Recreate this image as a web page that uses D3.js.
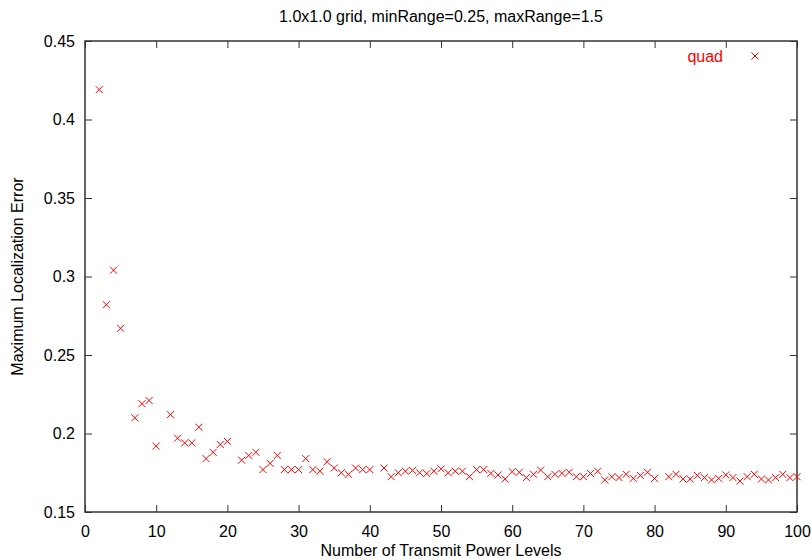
<!DOCTYPE html>
<html>
<head>
<meta charset="utf-8">
<script src="https://cdn.jsdelivr.net/npm/d3@7"></script>
<style>
  html, body { margin: 0; padding: 0; background: #fff; }
  svg { display: block; }
  text { font-family: "Liberation Sans", Arial, sans-serif; }
</style>
</head>
<body>
<script>
const levels = [2,3,4,5,7,8,9,10,12,13,14,15,16,17,18,19,20,22,23,24,25,26,27,28,29,30,
  31,32,33,34,35,36,37,38,39,40,42,43,44,45,46,47,48,49,50,51,52,53,54,55,56,57,58,59,60,
  61,62,63,64,65,66,67,68,69,70,71,72,73,74,75,76,77,78,79,80,82,83,84,85,86,87,88,89,90,
  91,92,93,94,95,96,97,98,99,100];
const maxError = [0.419,0.282,0.304,0.267,0.210,0.219,0.221,0.192,0.212,0.197,0.194,0.194,0.204,0.184,0.188,0.193,0.195,
  0.183,0.186,0.188,0.177,0.181,0.186,0.177,0.177,0.177,
  0.184,0.177,0.176,0.182,0.178,0.175,0.174,0.178,0.177,0.177,
  0.178,0.1725,0.175,0.176,0.1765,0.175,0.1745,0.176,0.1775,
  0.175,0.176,0.176,0.1725,0.177,0.177,0.1746,0.1736,0.171,0.1757,
  0.1753,0.1719,0.174,0.1767,0.1725,0.174,0.1746,0.1753,0.1725,0.1725,
  0.1745,0.176,0.1704,0.1725,0.1719,0.174,0.1714,0.1733,0.1753,0.1714,
  0.1725,0.174,0.171,0.171,0.1733,0.1719,0.1704,0.1714,0.1736,
  0.1719,0.1697,0.1725,0.174,0.171,0.1704,0.1719,0.174,0.1719,0.1725];
const xTicks = [0,10,20,30,40,50,60,70,80,90,100];
const yTicks = [0.15,0.2,0.25,0.3,0.35,0.4,0.45];
const yTickLabels = ["0.15","0.2","0.25","0.3","0.35","0.4","0.45"];
const seriesName = "quad";
const title = "1.0x1.0 grid, minRange=0.25, maxRange=1.5";
const xLabel = "Number of Transmit Power Levels";
const yLabel = "Maximum Localization Error";

const W = 812, H = 559;
const L = 85, R = 797, T = 41, B = 512;
const red = "#ff0000";
const frame = "#333";

const svg = d3.select("body").append("svg").attr("width", W).attr("height", H);

const x = d3.scaleLinear().domain([0, 100]).range([L, R]);
const y = d3.scaleLinear().domain([0.15, 0.45]).range([B, T]);

// Ticks (inward, mirrored)
const tl = 7;
const xAxisB = d3.axisBottom(x).tickValues(xTicks).tickSizeInner(-tl).tickSizeOuter(0).tickPadding(14).tickFormat(d3.format("d"));
const xAxisT = d3.axisTop(x).tickValues(xTicks).tickSizeInner(-tl).tickSizeOuter(0).tickFormat("");
const yAxisL = d3.axisLeft(y).tickValues(yTicks).tickSizeInner(-tl).tickSizeOuter(0).tickPadding(10).tickFormat((d,i) => yTickLabels[i]);
const yAxisR = d3.axisRight(y).tickValues(yTicks).tickSizeInner(-tl).tickSizeOuter(0).tickFormat("");

function style(g) {
  g.select(".domain").remove();
  g.selectAll(".tick line").attr("stroke", frame).attr("stroke-width", 1);
  g.selectAll(".tick text").attr("fill", "#000").style("font-size", "16px").style("font-family", "'Liberation Sans', Arial, sans-serif");
}
svg.append("g").attr("transform", `translate(0,${B})`).call(xAxisB).call(style);
svg.append("g").attr("transform", `translate(0,${T})`).call(xAxisT).call(style);
svg.append("g").attr("transform", `translate(${L},0)`).call(yAxisL).call(style);
svg.append("g").attr("transform", `translate(${R},0)`).call(yAxisR).call(style);

// Frame
svg.append("rect").attr("x", L).attr("y", T).attr("width", R - L).attr("height", B - T)
  .attr("fill", "none").attr("stroke", frame).attr("stroke-width", 1.5);

// Points
const s = 3.5;
const pts = svg.append("g").attr("stroke", red).attr("stroke-width", 1).attr("fill", "none");
levels.forEach((lv, i) => {
  const cx = x(lv), cy = y(maxError[i]);
  pts.append("path").attr("d", `M${cx - s},${cy - s}L${cx + s},${cy + s}M${cx - s},${cy + s}L${cx + s},${cy - s}`);
});

// Legend
svg.append("text").attr("x", 723).attr("y", 62).attr("text-anchor", "end")
  .attr("fill", red).style("font-size", "16px").text(seriesName);
const lx = 755, ly = 56;
svg.append("path").attr("d", `M${lx - s},${ly - s}L${lx + s},${ly + s}M${lx - s},${ly + s}L${lx + s},${ly - s}`)
  .attr("stroke", red).attr("stroke-width", 1);

// Titles
svg.append("text").attr("x", (L + R) / 2).attr("y", 22).attr("text-anchor", "middle")
  .style("font-size", "16px").attr("fill", "#000").text(title);
svg.append("text").attr("x", (L + R) / 2).attr("y", 556).attr("text-anchor", "middle")
  .style("font-size", "16px").attr("fill", "#000").text(xLabel);
svg.append("text").attr("transform", `translate(23,${(T + B) / 2}) rotate(-90)`).attr("text-anchor", "middle")
  .style("font-size", "16px").attr("fill", "#000").text(yLabel);
</script>
</body>
</html>
